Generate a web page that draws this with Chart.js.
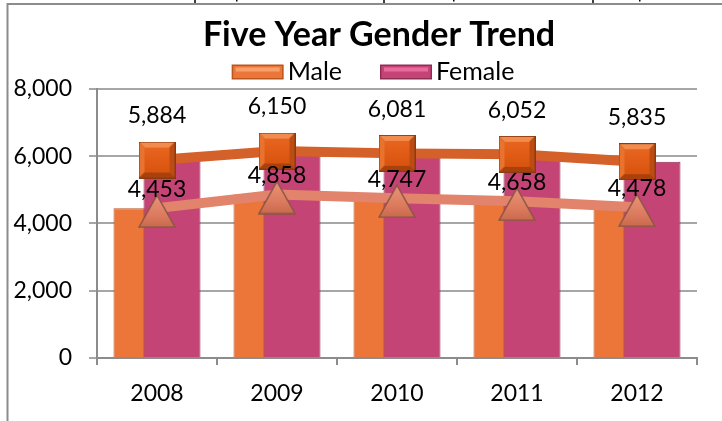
<!DOCTYPE html>
<html><head><meta charset="utf-8">
<script src="https://cdn.jsdelivr.net/npm/chart.js@4/dist/chart.umd.min.js"></script>
<style>
html,body{margin:0;padding:0;background:#fff;overflow:hidden;width:722px;height:421px}
#wrap{position:absolute;left:0;top:0;width:758px;height:421px}
</style></head>
<body><div id="wrap"><canvas id="c" width="758" height="421"></canvas></div>
<script>
const years = ['2008','2009','2010','2011','2012'];
const male = [4453, 4858, 4747, 4658, 4478];
const female = [5884, 6150, 6081, 6052, 5835];
const yTicks = [0, 2000, 4000, 6000, 8000];
const seriesNames = ['Male', 'Female'];

const FONT = 'Lato, "Open Sans", sans-serif';

function makeSquare(){
  const s = 37, c = document.createElement('canvas'); c.width = s; c.height = s;
  const g = c.getContext('2d');
  g.fillStyle = '#8a3a12'; g.fillRect(0,0,s,s);
  const b = 5;
  g.fillStyle = '#f28c4e'; g.beginPath(); g.moveTo(1,1); g.lineTo(s-1,1); g.lineTo(s-1-b,1+b); g.lineTo(1+b,1+b); g.closePath(); g.fill();
  g.fillStyle = '#e8732f'; g.beginPath(); g.moveTo(1,1); g.lineTo(1+b,1+b); g.lineTo(1+b,s-1-b); g.lineTo(1,s-1); g.closePath(); g.fill();
  g.fillStyle = '#a9410c'; g.beginPath(); g.moveTo(1,s-1); g.lineTo(1+b,s-1-b); g.lineTo(s-1-b,s-1-b); g.lineTo(s-1,s-1); g.closePath(); g.fill();
  g.fillStyle = '#bd4c12'; g.beginPath(); g.moveTo(s-1,1); g.lineTo(s-1,s-1); g.lineTo(s-1-b,s-1-b); g.lineTo(s-1-b,1+b); g.closePath(); g.fill();
  const gr = g.createLinearGradient(0,1+b,0,s-1-b); gr.addColorStop(0,'#e8651f'); gr.addColorStop(1,'#d9540f');
  g.fillStyle = gr; g.fillRect(1+b,1+b,s-2-2*b,s-2-2*b);
  return c;
}
function makeTriangle(){
  const w = 38, h = 40, c = document.createElement('canvas'); c.width = w; c.height = h;
  const g = c.getContext('2d');
  const top = 7;
  g.beginPath(); g.moveTo(w/2, top); g.lineTo(w-1, h-1); g.lineTo(1, h-1); g.closePath();
  const gr = g.createLinearGradient(0,top,0,h); gr.addColorStop(0,'#e99478'); gr.addColorStop(0.6,'#dc7b5e'); gr.addColorStop(1,'#c8684c');
  g.fillStyle = gr; g.fill();
  g.lineWidth = 1.5; g.strokeStyle = '#8c5644'; g.stroke();
  return c;
}
const squareImg = makeSquare();
const triImg = makeTriangle();

const fmt = v => Number(v).toLocaleString('en-US');

const frame = {
  id: 'frame',
  beforeDraw(chart){
    const ctx = chart.ctx;
    ctx.save();
    ctx.fillStyle = '#fff'; ctx.fillRect(0,0,chart.width,chart.height);
    ctx.strokeStyle = '#8c8c8c'; ctx.lineWidth = 2;
    ctx.beginPath(); ctx.moveTo(7.5, 421); ctx.lineTo(7.5, 4); ctx.lineTo(chart.width, 4); ctx.stroke();
    ctx.strokeStyle = '#000'; ctx.lineWidth = 1.5;
    [195, 384, 593].forEach(x => { ctx.beginPath(); ctx.moveTo(x, 0); ctx.lineTo(x, 3); ctx.stroke(); });
    ctx.fillStyle = '#000';
    [236, 453, 639].forEach(x => ctx.fillRect(x, 0, 1.5, 1.5));
    ctx.restore();
  }
};

// legend drawn from the bar datasets (label + colour)
const barLegend = {
  id: 'barLegend',
  afterDraw(chart, args, opts){
    const ctx = chart.ctx;
    const items = chart.data.datasets.filter(d => d.type === 'bar');
    ctx.save();
    ctx.font = opts.size + 'px ' + FONT;
    const bw = 52, bh = 15, gap = 4, itemGap = 38;
    const widths = items.map(d => bw + gap + ctx.measureText(d.label).width);
    const total = widths.reduce((a,b)=>a+b,0) + itemGap*(items.length-1);
    let x = chart.width/2 + opts.shift - total/2;
    const cy = opts.y;
    items.forEach((d, i) => {
      const top = cy - bh/2;
      ctx.fillStyle = d.borderColor; ctx.fillRect(x, top, bw, bh);
      ctx.fillStyle = d.backgroundColor; ctx.fillRect(x+1.5, top+1.5, bw-3, bh-3);
      ctx.fillStyle = d.legendLight; ctx.fillRect(x+4, top+3, bw-8, 4);
      ctx.fillStyle = '#000'; ctx.textAlign = 'left'; ctx.textBaseline = 'middle';
      ctx.fillText(d.label, x + bw + gap, cy);
      x += widths[i] + itemGap;
    });
    ctx.restore();
  }
};

const femaleOnTop = {
  id: 'femaleOnTop',
  beforeDatasetDraw(chart, args){ if (args.index === 1) return false; },
  afterDatasetDraw(chart, args){
    if (args.index === 0) chart.getDatasetMeta(1).controller.draw();
  }
};

const valueLabels = {
  id: 'valueLabels',
  afterDatasetsDraw(chart){
    const ctx = chart.ctx;
    ctx.save();
    ctx.font = '23px ' + FONT;
    ctx.fillStyle = '#000';
    ctx.textAlign = 'center'; ctx.textBaseline = 'middle';
    chart.data.datasets.forEach((ds, i) => {
      if (ds.type !== 'line') return;
      const meta = chart.getDatasetMeta(i);
      meta.data.forEach((pt, j) => {
        ctx.fillText(fmt(ds.data[j]), pt.x, pt.y - ds.labelOffset);
      });
    });
    ctx.restore();
  }
};

new Chart(document.getElementById('c'), {
  data: {
    labels: years,
    datasets: [
      { type: 'bar', label: seriesNames[0], data: male, backgroundColor: '#ec7639', borderColor: '#b9561f', legendLight: '#f7a06a', borderWidth: 1,
        barPercentage: 1.9, categoryPercentage: 0.5, order: 1 },
      { type: 'bar', label: seriesNames[1], data: female, backgroundColor: '#c44476', borderColor: '#8e2e55', legendLight: '#ea6aa0', borderWidth: 1,
        barPercentage: 1.9, categoryPercentage: 0.5, order: 1 },
      { type: 'line', label: seriesNames[1] + ' trend', data: female, borderColor: '#d5612a', borderWidth: 10,
        pointStyle: squareImg, pointRadius: 18, order: 0, labelOffset: 44, tension: 0 },
      { type: 'line', label: seriesNames[0] + ' trend', data: male, borderColor: '#e2836b', borderWidth: 10,
        pointStyle: triImg, pointRadius: 18, order: 0, labelOffset: 19, tension: 0 }
    ]
  },
  options: {
    responsive: false,
    animation: false,
    devicePixelRatio: 1,
    layout: { padding: { left: 0, right: 0, top: 0, bottom: 0 } },
    plugins: {
      title: { display: true, text: 'Five Year Gender Trend', color: '#000',
        font: { family: FONT, size: 34, weight: 'bold' }, padding: { top: 15, bottom: 33 } },
      legend: { display: false },
      barLegend: { size: 25, y: 72, shift: -6 },
      tooltip: { enabled: false }
    },
    scales: {
      x: { type: 'category', offset: true,
        grid: { offset: true, drawOnChartArea: false, drawTicks: true, tickLength: 7, color: '#8c8c8c', lineWidth: 2 },
        border: { display: true, color: '#8c8c8c', width: 2 },
        ticks: { color: '#000', font: { family: FONT, size: 23 }, padding: 15 },
        afterFit: s => { s.height = 63; } },
      y: { type: 'linear', min: yTicks[0], max: yTicks[yTicks.length-1],
        afterBuildTicks: s => { s.ticks = yTicks.map(v => ({ value: v })); },
        grid: { color: '#a6a6a6', lineWidth: 2, tickLength: 8 },
        border: { display: true, color: '#8c8c8c', width: 2 },
        ticks: { color: '#000', font: { family: FONT, size: 23 }, padding: 17, callback: v => fmt(v) },
        afterFit: s => { s.width = 97; } },
      yR: { type: 'linear', position: 'right', display: true,
        grid: { display: false }, border: { display: false }, ticks: { display: false },
        afterFit: s => { s.width = 61; } }
    }
  },
  plugins: [frame, femaleOnTop, valueLabels, barLegend]
});
</script></body></html>
